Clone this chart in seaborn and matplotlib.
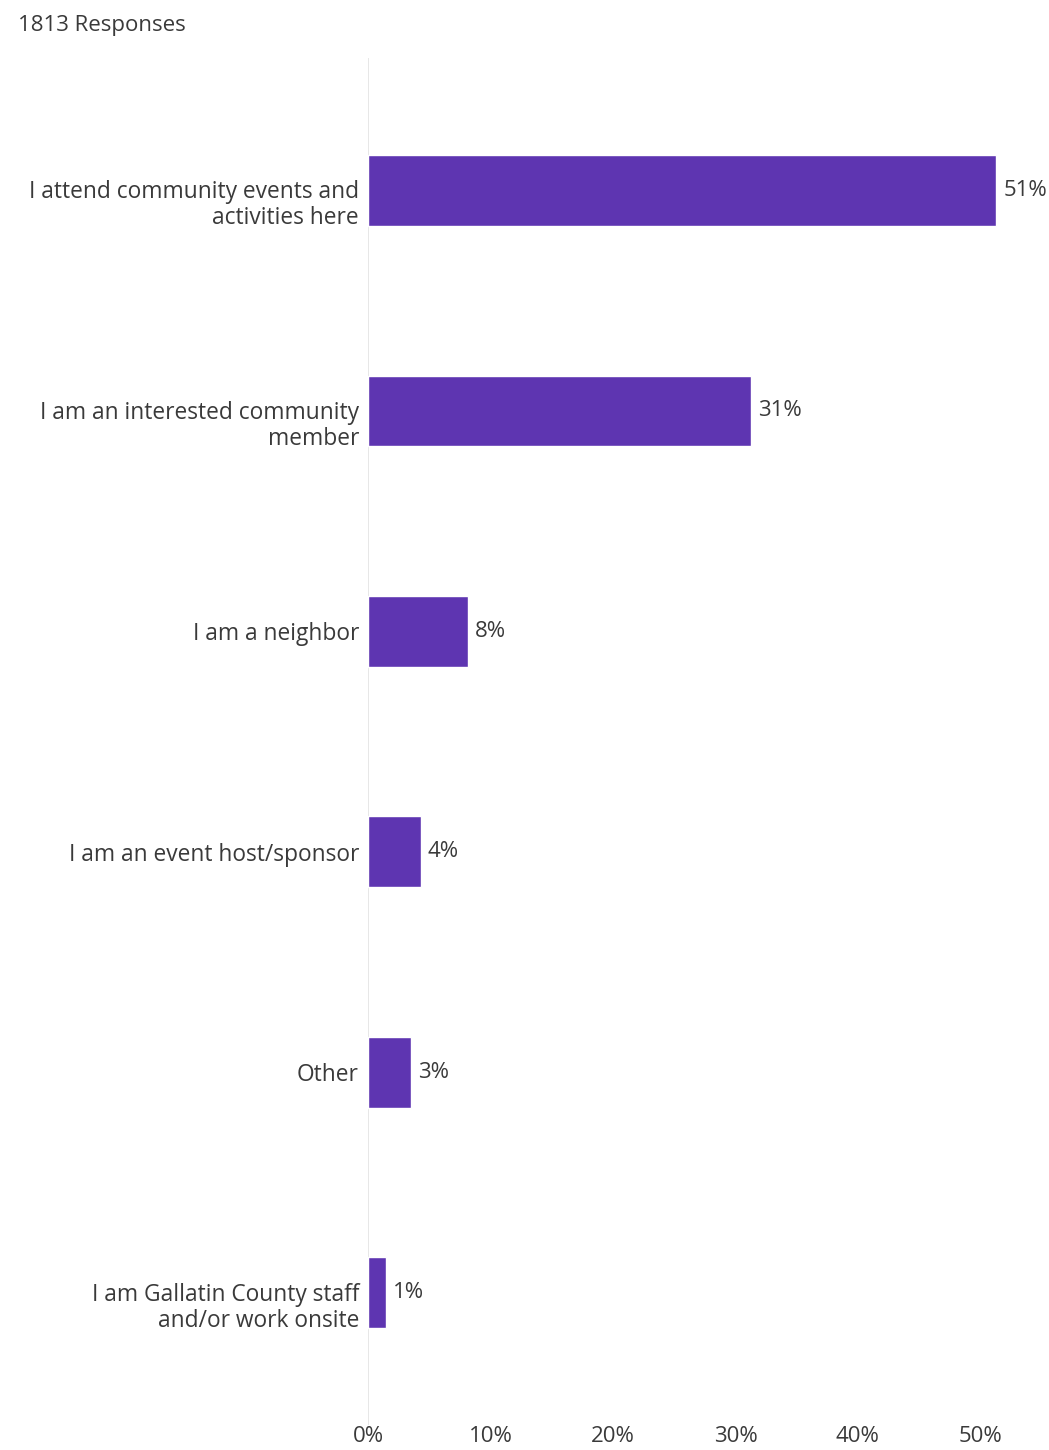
import numpy as np
import pandas as pd
import matplotlib.pyplot as plt
import matplotlib.transforms as mtransforms
import seaborn as sns

# values (percent of respondents)
categories = [
    "I attend community events and\nactivities here",
    "I am an interested community\nmember",
    "I am a neighbor",
    "I am an event host/sponsor",
    "Other",
    "I am Gallatin County staff\nand/or work onsite",
]
percents = [51.3, 31.3, 8.2, 4.3, 3.5, 1.5]
bar_labels = ["51%", "31%", "8%", "4%", "3%", "1%"]
xticks = [0, 10, 20, 30, 40, 50]
xtick_labels = ["0%", "10%", "20%", "30%", "40%", "50%"]

sns.set_theme(style="white")
plt.rcParams['font.family'] = ['Open Sans', 'DejaVu Sans']
text_color = "#3a3a3a"

df = pd.DataFrame({"category": categories, "percent": percents})

fig = plt.figure(figsize=(10.49, 14.5), dpi=100)
ax = fig.add_axes([0.3508, 0.0172, 0.6422, 0.9428])

sns.barplot(data=df, x="percent", y="category", orient="h",
            color="#5e35b1", saturation=1, width=0.32, ax=ax)

ax.bar_label(ax.containers[0], labels=bar_labels, padding=5,
             fontsize=16, color=text_color, clip_on=False)

ax.set_xlim(0, 55)
ax.set_ylim(5.6, -0.6)
ax.set_xticks(xticks)
ax.set_xticklabels(xtick_labels)
ax.set_xlabel("")
ax.set_ylabel("")
for s in ax.spines.values():
    s.set_visible(False)
ax.axvline(0, color="#e3e3e3", lw=1.2, zorder=0)
ax.tick_params(axis="x", length=0, pad=1, labelsize=16, labelcolor=text_color)
ax.tick_params(axis="y", length=0, pad=6.5, labelsize=16.4, labelcolor=text_color)

# two-line labels sit with their first line at the bar centre
shift = mtransforms.ScaledTranslation(0, -0.11, fig.dpi_scale_trans)
for lab in ax.get_yticklabels():
    lab.set_horizontalalignment("right")
    lab.set_multialignment("right")
    lab.set_linespacing(1.12)
    if "\n" in lab.get_text():
        lab.set_transform(lab.get_transform() + shift)

fig.text(18 / 1049, 1 - 26 / 1450, "1813 Responses", fontsize=16,
         color=text_color, ha="left", va="center")

fig.savefig("out.png", dpi=100, facecolor="white")
